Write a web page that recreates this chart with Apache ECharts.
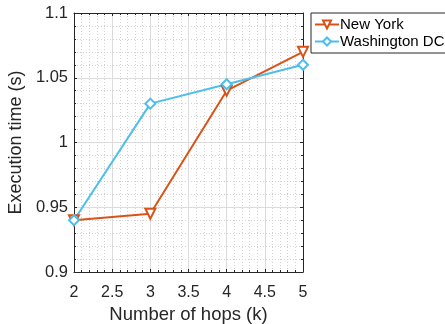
<!DOCTYPE html>
<html><head><meta charset="utf-8">
<script src="https://cdn.jsdelivr.net/npm/echarts@6/dist/echarts.min.js"></script>
<style>html,body{margin:0;padding:0;background:#fff}#c{width:445px;height:324px}</style>
</head><body><div id="c"></div>
<script>
const hops = [2, 3, 4, 5];
const newYork = [0.94, 0.945, 1.04, 1.07];
const washington = [0.94, 1.03, 1.045, 1.06];
const seriesNames = ['New York', 'Washington DC'];
const xTitle = 'Number of hops (k)';
const yTitle = 'Execution time (s)';

const font = 'Liberation Sans, Arial, Helvetica, sans-serif';
const axCol = '#262626';
const chart = echarts.init(document.getElementById('c'), null, {renderer: 'canvas'});
function pairs(xs, ys) { return xs.map((x, i) => [x, ys[i]]); }
const baseX = {
  type: 'value', min: 2, max: 5, interval: 0.5,
  axisLine: {show: true, lineStyle: {color: axCol, width: 1}},
  axisTick: {show: true, inside: true, length: 3, lineStyle: {color: axCol}},
  minorTick: {show: true, splitNumber: 5, length: 2, lineStyle: {color: axCol}},
};
const baseY = {
  type: 'value', min: 0.9, max: 1.1, interval: 0.05,
  axisLine: {show: true, lineStyle: {color: axCol, width: 1}},
  axisTick: {show: true, inside: true, length: 3, lineStyle: {color: axCol}},
  minorTick: {show: true, splitNumber: 5, length: 2, lineStyle: {color: axCol}},
};
chart.setOption({
  animation: false,
  backgroundColor: '#fff',
  grid: {left: 74, right: 142, top: 13, bottom: 52, containLabel: false, outerBoundsMode: 'none'},
  legend: {
    data: seriesNames, orient: 'vertical', left: 311, top: 13,
    itemWidth: 24, itemHeight: 10, itemGap: 2,
    padding: [4, 6, 4, 3],
    borderColor: axCol, borderWidth: 1, borderRadius: 0, backgroundColor: '#fff',
    textStyle: {fontFamily: font, fontSize: 15, lineHeight: 15, color: '#000', padding: [0, 0, 0, -4]}
  },
  xAxis: [
    Object.assign({}, baseX, {
      position: 'bottom',
      name: xTitle, nameLocation: 'middle', nameGap: 32,
      nameTextStyle: {fontFamily: font, fontSize: 18.5, color: axCol},
      axisLabel: {fontFamily: font, fontSize: 16, color: axCol, margin: 13,
        formatter: v => String(+v.toFixed(2))},
      splitLine: {show: true, lineStyle: {color: '#dcdcdc', width: 1}},
      minorSplitLine: {show: true, lineStyle: {color: '#d2d2d2', width: 1, type: [1, 2]}}
    }),
    Object.assign({}, baseX, {position: 'top', axisLabel: {show: false}, splitLine: {show: false}})
  ],
  yAxis: [
    Object.assign({}, baseY, {
      position: 'left',
      name: yTitle, nameLocation: 'middle', nameGap: 46,
      nameTextStyle: {fontFamily: font, fontSize: 18, color: axCol},
      axisLabel: {fontFamily: font, fontSize: 16.5, color: axCol, margin: 6,
        formatter: v => String(+v.toFixed(2))},
      splitLine: {show: true, lineStyle: {color: '#dcdcdc', width: 1}},
      minorSplitLine: {show: true, lineStyle: {color: '#d2d2d2', width: 1, type: [1, 2]}}
    }),
    Object.assign({}, baseY, {position: 'right', axisLabel: {show: false}, splitLine: {show: false}})
  ],
  series: [
    {name: seriesNames[0], type: 'line', data: pairs(hops, newYork),
      color: '#D95319', lineStyle: {width: 2},
      symbol: 'emptyTriangle', symbolRotate: 180, symbolSize: 10, itemStyle: {borderWidth: 1.5}},
    {name: seriesNames[1], type: 'line', data: pairs(hops, washington),
      color: '#4DBEEE', lineStyle: {width: 2},
      symbol: 'emptyDiamond', symbolSize: 10, itemStyle: {borderWidth: 1.5}}
  ]
});
</script></body></html>
